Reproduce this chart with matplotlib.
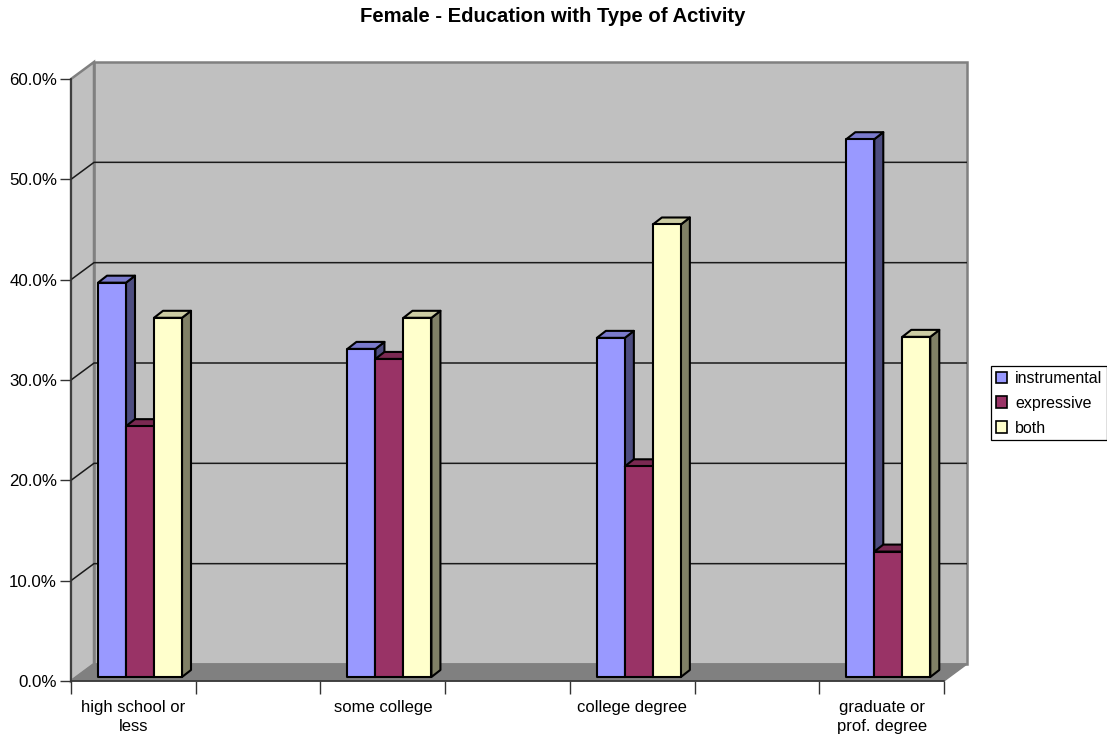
# python plot.py
# Pseudo-3D clustered columns: female respondents, education by type of activity

import matplotlib
matplotlib.use("Agg")
import matplotlib.pyplot as plt
from matplotlib.patches import Patch, Polygon

plt.rcParams["font.family"] = ["Liberation Sans", "DejaVu Sans"]

categories = ["high school or\nless", "some college", "college degree", "graduate or\nprof. degree"]
series_names = ["instrumental", "expressive", "both"]
instrumental = [39.3, 32.7, 33.8, 53.6]
expressive = [25.0, 31.7, 21.0, 12.5]
both = [35.8, 35.8, 45.1, 33.9]
y_ticks = [0, 10, 20, 30, 40, 50, 60]

series_values = [instrumental, expressive, both]
front_colors = ["#9999FF", "#993366", "#FFFFCC"]
top_colors = ["#7A7ACC", "#7A2952", "#CCCCA3"]
side_colors = ["#4D4D80", "#4D1A33", "#808066"]

W, H = 1107, 736
X0, X1 = 71, 944     # front axis, pixels
Y0, Y60 = 681, 79
DEPTH_X, DEPTH_Y = 23, 17

# categories sit on every other slot, with an empty slot between them
n = 2 * len(categories) - 1
px_x = (X1 - X0) / n
px_y = (Y0 - Y60) / 60
dx = DEPTH_X / px_x
dy = DEPTH_Y / px_y

fig = plt.figure(figsize=(W / 100, H / 100), dpi=100, facecolor="white")
ax = fig.add_axes([X0 / W, (H - Y0) / H, (X1 + DEPTH_X - X0) / W, (Y0 - Y60 + DEPTH_Y) / H])
ax.set_xlim(0, n + dx)
ax.set_ylim(0, 60 + dy)
ax.patch.set_visible(False)
for side in ["top", "right"]:
    ax.spines[side].set_visible(False)
ax.spines["left"].set_bounds(0, 60)
ax.spines["bottom"].set_bounds(0, n)
ax.spines["left"].set_color("#333333")
ax.spines["left"].set_linewidth(1.2)
ax.spines["bottom"].set_color("#333333")
ax.spines["bottom"].set_linewidth(1.2)
ax.spines["left"].set_zorder(6)
ax.spines["bottom"].set_zorder(6)

wall_gray = "#C0C0C0"
edge_gray = "#808080"

# walls and floor
ax.add_patch(Polygon([(dx, dy), (n + dx, dy), (n + dx, 60 + dy), (dx, 60 + dy)],
                     closed=True, fc=wall_gray, ec=edge_gray, lw=1.8, zorder=1, clip_on=False))
ax.add_patch(Polygon([(0, 0), (dx, dy), (dx, 60 + dy), (0, 60)],
                     closed=True, fc=wall_gray, ec=edge_gray, lw=1.8, zorder=1, clip_on=False))
ax.add_patch(Polygon([(0, 0), (n, 0), (n + dx, dy), (dx, dy)],
                     closed=True, fc=edge_gray, ec=edge_gray, lw=1.0, zorder=2, clip_on=False))

# gridlines run along the side wall then the back wall
for v in y_ticks[1:-1]:
    ax.plot([0, dx, n + dx], [v, v + dy, v + dy], color="#1a1a1a", lw=1.1, zorder=1.5,
            solid_joinstyle="miter")

bar_w = 28 / px_x
bar_start = 27 / px_x
bar_dx = 9 / px_x
bar_dy = 7 / px_y
base = 4 / px_y

# columns, left to right so each front covers the neighbouring side face
z = 3
for i in range(len(categories)):
    for j, values in enumerate(series_values):
        left = 2 * i + bar_start + j * bar_w
        right = left + bar_w
        top = base + values[i]
        ax.add_patch(Polygon([(right, base), (right + bar_dx, base + bar_dy),
                              (right + bar_dx, top + bar_dy), (right, top)],
                             closed=True, fc=side_colors[j], ec="black", lw=1.5, zorder=z,
                             joinstyle="round"))
        ax.add_patch(Polygon([(left, top), (right, top), (right + bar_dx, top + bar_dy),
                              (left + bar_dx, top + bar_dy)],
                             closed=True, fc=top_colors[j], ec="black", lw=1.5, zorder=z,
                             joinstyle="round"))
        ax.add_patch(Polygon([(left, base), (right, base), (right, top), (left, top)],
                             closed=True, fc=front_colors[j], ec="black", lw=1.5, zorder=z + 0.5,
                             joinstyle="round"))
        z += 1

ax.set_yticks(y_ticks)
ax.set_yticklabels([f"{v:.1f}%" for v in y_ticks], fontsize=12.2)
ax.tick_params(axis="y", length=8, width=1.0, color="#333333", pad=2)

ax.set_xticks(range(n + 1))
ax.set_xticklabels([""] * (n + 1))
ax.tick_params(axis="x", which="major", length=9, width=1.0, color="#333333")
ax.set_xticks([2 * i + 0.5 for i in range(len(categories))], minor=True)
ax.set_xticklabels(categories, minor=True, fontsize=12, linespacing=1.28)
ax.tick_params(axis="x", which="minor", length=0, pad=14)

fig.text(552.5 / W, 1 - 16 / H, "Female - Education with Type of Activity",
         ha="center", va="center", fontsize=14.6, fontweight="bold")

handles = [Patch(facecolor=c, edgecolor="black", linewidth=1.2, label=name)
           for c, name in zip(front_colors, series_names)]
leg = fig.legend(handles=handles, loc="upper left", bbox_to_anchor=(991 / W, 1 - 366 / H),
                 bbox_transform=fig.transFigure, fontsize=11.5, frameon=True, fancybox=False,
                 edgecolor="black", framealpha=1, borderaxespad=0, borderpad=0.3,
                 handlelength=0.72, handleheight=0.72, handletextpad=0.5, labelspacing=0.62)
leg.get_frame().set_linewidth(0.9)

fig.savefig("out.png", dpi=100)
